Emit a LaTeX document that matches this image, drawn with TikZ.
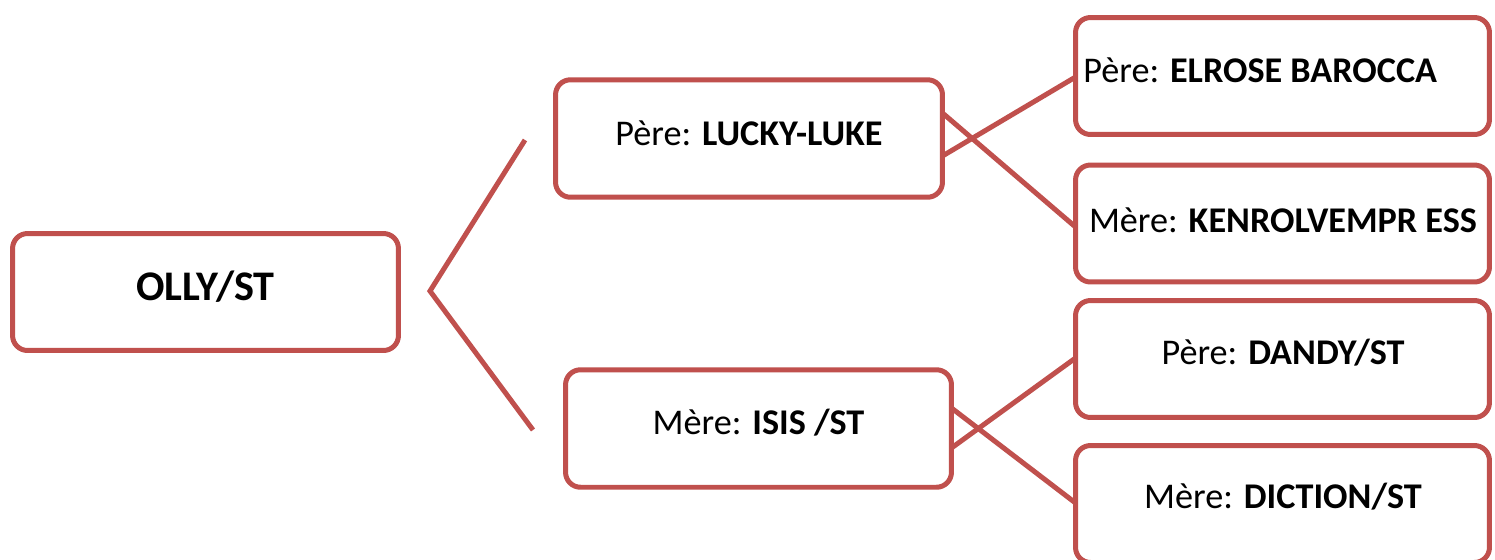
\documentclass[tikz,border=0pt]{standalone}
\usepackage{fontspec}
\setmainfont{Carlito}
\definecolor{boxred}{HTML}{C0504D}
\begin{document}
\begin{tikzpicture}[x={(0.02cm,0)},y={(0,-0.02cm)},
  box/.style={draw=boxred,line width=0.1cm,rounded corners=0.3cm,outer sep=0pt,inner sep=0pt,fill=white},
  smallbox/.style={box,minimum width=7.74cm,minimum height=2.35cm},
  rbox/.style={box,minimum width=8.28cm,minimum height=2.34cm},
  txt/.style={font=\fontsize{20.6}{24}\selectfont,inner sep=0pt},
  link/.style={draw=boxred,line width=0.1cm}]
\clip (0,0) rectangle (1495,559);
\fill[white] (0,0) rectangle (1495,559);
% boxes
\node[box,minimum width=7.72cm,minimum height=2.34cm] (olly) at (205.5,292) {};
\node[smallbox] (lucky) at (749,138.5) {};
\node[smallbox,minimum width=7.72cm] (isis) at (758.5,428.5) {};
\node[rbox] (elrose) at (1282.5,76) {};
\node[rbox] (kenrol) at (1282.5,223.5) {};
\node[rbox] (dandy) at (1282.5,359) {};
\node[rbox] (diction) at (1282.5,504) {};
% texts
\node[inner sep=0pt,font=\fontsize{24}{28}\selectfont\bfseries] (ollyt) at (205.5,287) {OLLY/ST};
\node[txt] (luckyt) at (749,133) {Père: \textbf{LUCKY-LUKE}};
\node[txt] (isist) at (758.5,423) {Mère: \textbf{ISIS /ST}};
\node[txt,anchor=west] (elroset) at (1083,70) {Père: \textbf{ELROSE BAROCCA}};
\node[txt] (kenrolt) at (1283,220) {Mère: \textbf{KENROLVEMPR ESS}};
\node[txt] (dandyt) at (1283,353) {Père: \textbf{DANDY/ST}};
\node[txt] (dictiont) at (1283,497) {Mère: \textbf{DICTION/ST}};
% bracket
\coordinate (btop) at (525,140);
\coordinate (bmid) at (430,291);
\coordinate (bbot) at (533,430);
\draw[link,line join=miter] (btop) -- (bmid) -- (bbot);
% crossing links
\draw[link] ([yshift=0.51cm]lucky.east) -- ([yshift=-0.07cm]kenrol.west);
\draw[link] ([yshift=-0.35cm]lucky.east) -- ([yshift=-0.02cm]elrose.west);
\draw[link] ([yshift=0.41cm]isis.east) -- ([yshift=0.02cm]diction.west);
\draw[link] ([yshift=-0.39cm]isis.east) -- ([yshift=0.02cm]dandy.west);
\end{tikzpicture}
\end{document}
